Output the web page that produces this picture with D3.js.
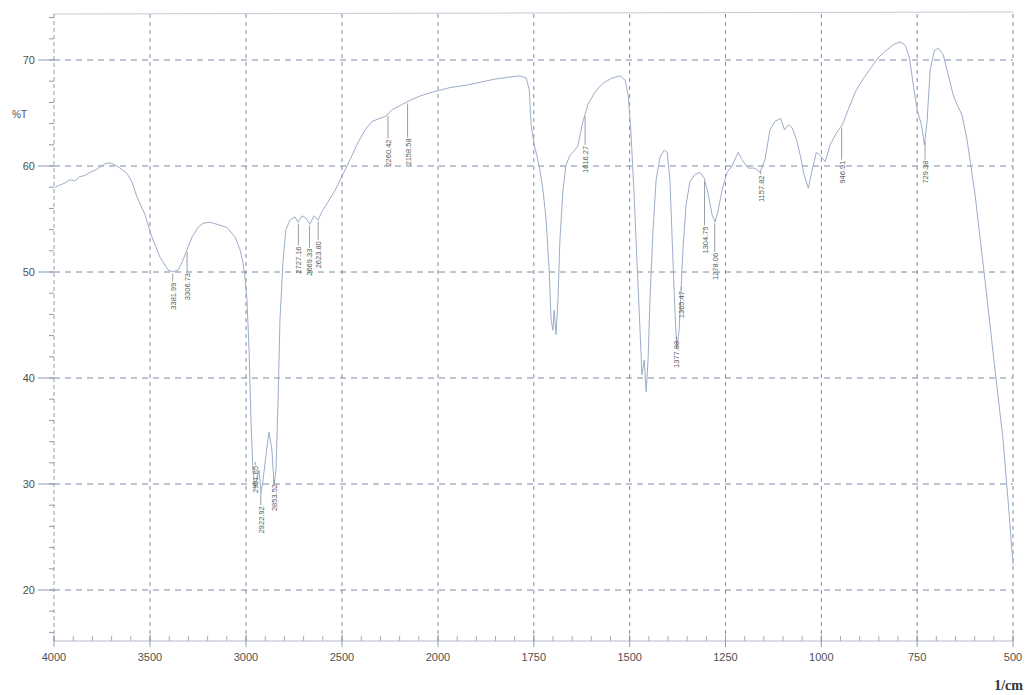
<!DOCTYPE html>
<html><head><meta charset="utf-8">
<script src="https://cdn.jsdelivr.net/npm/d3@7/dist/d3.min.js"></script>
<style>body{margin:0;background:#fff}svg{display:block}</style>
</head><body>
<svg id="c" width="1030" height="695"></svg>
<script>
// wavenumber (1/cm) and transmittance (%T)
const wavenumbers = [3995,3969,3943,3917,3891,3865,3839,3812,3786,3760,3734,3708,3682,3656,3620,3594,3568,3526,3490,3448,3406,3380,3354,3333,3307,3281,3250,3224,3188,3151,3099,3057,3031,3016,3005,2995,2984,2974,2964,2953,2943,2932,2922,2911,2896,2880,2865,2854,2844,2833,2823,2807,2792,2771,2745,2729,2708,2688,2667,2646,2625,2604,2573,2536,2495,2458,2417,2380,2344,2302,2271,2240,2198,2146,2094,2042,2000,1969,1930,1890,1851,1812,1786,1770,1762,1757,1749,1742,1734,1726,1718,1710,1705,1700,1697,1692,1687,1682,1674,1666,1656,1643,1635,1624,1609,1590,1570,1546,1525,1512,1504,1497,1489,1481,1473,1468,1462,1457,1452,1447,1439,1431,1421,1410,1402,1395,1387,1382,1377,1371,1366,1361,1353,1343,1330,1317,1306,1296,1285,1277,1270,1259,1246,1233,1217,1207,1191,1173,1160,1147,1134,1121,1106,1096,1086,1076,1065,1055,1045,1034,1024,1013,1003,990,977,961,945,930,911,893,872,852,831,810,794,781,770,760,750,739,731,724,716,705,695,682,669,656,646,633,620,599,573,547,526,513,500];
const transmittance = [58.0,58.2,58.4,58.7,58.6,59.0,59.1,59.4,59.6,59.9,60.2,60.3,60.1,59.8,59.3,58.5,57.1,55.4,53.3,51.4,50.2,50.0,50.2,50.9,52.1,53.3,54.2,54.6,54.7,54.5,54.2,53.3,52.1,50.9,49.5,47.4,42.6,36.0,31.3,29.6,30.6,31.3,29.2,30.4,32.7,34.9,33.2,29.9,31.3,37.9,45.5,51.1,54.0,54.9,55.2,54.7,55.3,55.1,54.5,55.3,54.9,55.7,56.6,57.7,59.2,60.6,62.2,63.4,64.2,64.5,64.7,65.3,65.7,66.2,66.6,66.9,67.1,67.4,67.6,67.9,68.2,68.4,68.5,68.3,67.2,63.9,62.0,61.0,59.6,57.7,54.9,50.2,45.5,44.5,46.4,44.1,47.4,53.0,57.7,60.1,61.0,61.5,61.9,63.9,65.8,67.0,67.8,68.3,68.5,68.1,66.7,63.4,57.7,51.1,44.5,40.3,41.7,38.7,41.7,47.4,54.0,58.7,60.8,61.5,61.3,58.7,51.1,46.4,42.8,44.5,48.3,52.1,56.3,58.5,59.2,59.4,58.9,57.5,55.4,54.7,55.7,57.7,59.4,60.0,61.3,60.6,59.8,59.8,59.4,60.6,63.4,64.2,64.5,63.4,63.9,63.6,62.5,61.0,59.2,57.9,59.6,61.3,61.0,60.4,62.0,63.1,63.9,65.3,67.0,68.1,69.2,70.2,70.9,71.5,71.7,71.4,70.2,67.6,65.3,63.9,62.0,64.3,69.1,70.9,71.1,70.5,68.6,66.7,65.8,64.8,62.5,57.3,49.2,40.8,34.2,28.5,22.4];

// peak annotations
const peakWn = [3381.99,3306.73,2951.65,2922.92,2853.52,2727.16,2669.33,2623.80,2260.42,2158.58,1616.27,1377.88,1365.47,1304.75,1278.06,1157.82,946.91,729.38];
const peakText = ["3381.99","3306.73","2951.65","2922.92","2853.52","2727.16","2669.33","2623.80","2260.42","2158.58","1616.27","1377.88","1365.47","1304.75","1278.06","1157.82","946.91","729.38"];
const peakLabelT = [49.1,50.0,31.8,28.0,30.1,52.5,52.3,53.0,62.6,62.7,62.0,43.6,48.3,54.4,51.9,59.2,60.6,60.6];

const xTicks = [4000,3500,3000,2500,2000,1750,1500,1250,1000,750,500];
const yTicks = [20,30,40,50,60,70];
const xMinor = d3.range(4000,2000,-100).concat(d3.range(2000,499,-50));
const yMinor = d3.range(16,75,2);

const svg = d3.select("#c");
const x = d3.scaleLinear().domain([4000,2000,500]).range([54,438,1013]);
const y = d3.scaleLinear().domain([20,70]).range([590,60]);
const pTop = 14, pBottom = 641, pLeft = 54, pRight = 1013;
const gridC = "#7d8aa3", txtC = "#505050";

// grid
svg.append("g").selectAll("line").data(yTicks).join("line")
  .attr("x1",pLeft).attr("x2",pRight).attr("y1",d=>y(d)).attr("y2",d=>y(d))
  .attr("stroke",gridC).attr("stroke-width",1).attr("stroke-dasharray","6,5");
svg.append("g").selectAll("line").data(xTicks.slice(1)).join("line")
  .attr("x1",d=>x(d)).attr("x2",d=>x(d)).attr("y1",pTop).attr("y2",pBottom)
  .attr("stroke",gridC).attr("stroke-width",1).attr("stroke-dasharray","4,4");
// frame lines
svg.append("line").attr("x1",pLeft).attr("x2",pRight).attr("y1",pTop).attr("y2",pTop-2)
  .attr("stroke","#c2c9d6").attr("stroke-width",1);
svg.append("line").attr("x1",pLeft).attr("x2",pLeft).attr("y1",pTop).attr("y2",pBottom)
  .attr("stroke","#8f9bb3").attr("stroke-width",1).attr("stroke-dasharray","4,3");
svg.append("line").attr("x1",pLeft).attr("x2",pRight).attr("y1",pBottom).attr("y2",pBottom)
  .attr("stroke","#b0b9cb").attr("stroke-width",1);

// y ticks
svg.append("g").selectAll("line").data(yMinor).join("line")
  .attr("x1",pLeft-5).attr("x2",pLeft).attr("y1",d=>y(d)).attr("y2",d=>y(d))
  .attr("stroke","#8f9bb3");
svg.append("g").selectAll("line").data(yTicks).join("line")
  .attr("x1",pLeft-16).attr("x2",pLeft).attr("y1",d=>y(d)).attr("y2",d=>y(d))
  .attr("stroke","#8f9bb3");
svg.append("g").selectAll("text").data(yTicks).join("text")
  .attr("x",35).attr("y",d=>y(d)+4).attr("text-anchor","end")
  .attr("font-family","Liberation Sans, Arial").attr("font-size",11).attr("fill",txtC)
  .text(d=>d);
svg.append("text").attr("x",12).attr("y",118).attr("font-family","Liberation Sans, Arial")
  .attr("font-size",10).attr("fill",txtC).text("%T");

// x ticks
svg.append("g").selectAll("line").data(xMinor).join("line")
  .attr("x1",d=>x(d)).attr("x2",d=>x(d)).attr("y1",pBottom-5).attr("y2",pBottom)
  .attr("stroke","#a0abc0");
svg.append("g").selectAll("line").data(xTicks).join("line")
  .attr("x1",d=>x(d)).attr("x2",d=>x(d)).attr("y1",pBottom-6).attr("y2",pBottom+6)
  .attr("stroke","#8f9bb3");
svg.append("g").selectAll("text").data(xTicks).join("text")
  .attr("x",d=>x(d)).attr("y",661).attr("text-anchor","middle")
  .attr("font-family","Liberation Sans, Arial").attr("font-size",11).attr("fill",txtC)
  .text(d=>d);
svg.append("text").attr("x",1023).attr("y",690).attr("text-anchor","end")
  .attr("font-family","Liberation Serif, Times New Roman").attr("font-size",14)
  .attr("font-weight","bold").attr("fill","#333").text("1/cm");

// spectrum
const pts = wavenumbers.map((w,i)=>[w,transmittance[i]]);
svg.append("path").datum(pts)
  .attr("d", d3.line().x(d=>x(d[0])).y(d=>y(d[1])))
  .attr("fill","none").attr("stroke","#9dadca").attr("stroke-width",1);

// peak labels
function tAt(w){
  for(let i=0;i<wavenumbers.length-1;i++){
    const a=wavenumbers[i], b=wavenumbers[i+1];
    if(w<=a && w>=b){const f=(a-w)/(a-b);return transmittance[i]+f*(transmittance[i+1]-transmittance[i]);}
  }
  return transmittance[transmittance.length-1];
}
const pg = svg.append("g");
peakWn.forEach((w,i)=>{
  const px = x(w), ty = y(peakLabelT[i]);
  const cy = Math.min(y(tAt(w))+2, ty-3);
  pg.append("line").attr("x1",px).attr("x2",px).attr("y1",cy).attr("y2",ty)
    .attr("stroke","#80858f").attr("stroke-width",0.8);
  pg.append("text").attr("transform",`translate(${px+3},${ty+1}) rotate(-90)`)
    .attr("text-anchor","end").attr("font-family","Liberation Sans, Arial")
    .attr("font-size",7.5).attr("fill","#5a5a5a").text(peakText[i]);
});
</script>
</body></html>
